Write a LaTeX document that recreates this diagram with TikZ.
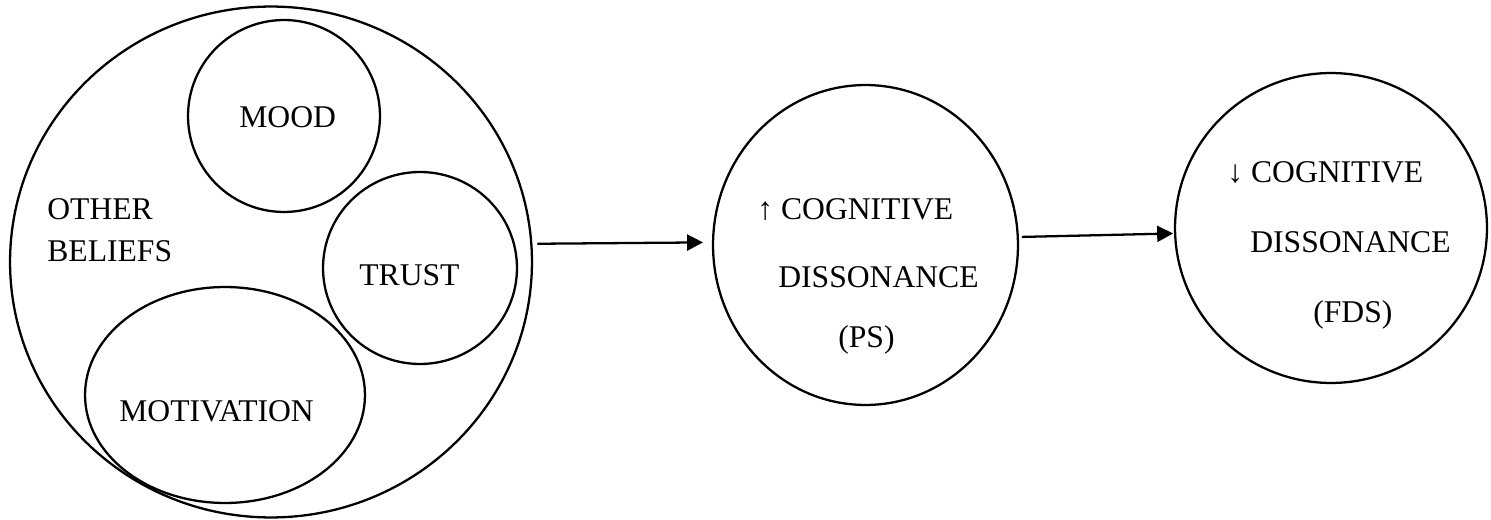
\documentclass[tikz,border=0pt]{standalone}
\usepackage{fontspec}
\setmainfont{Liberation Serif}
\usetikzlibrary{shapes.geometric,arrows.meta}

\begin{document}
\begin{tikzpicture}[
    x=0.02cm, y=-0.02cm,
    blob/.style={ellipse, draw, line width=1.3pt, inner sep=0pt, outer sep=0pt},
    txt/.style={font=\fontsize{18}{24}\selectfont, inner sep=0pt, anchor=base west},
    arrow/.style={-{Triangle[length=0.32cm, width=0.32cm]}, line width=1.3pt},
]
\useasboundingbox (0,0) rectangle (1491,520);

% Belief cluster
\node[blob, minimum width=10.44cm, minimum height=10.22cm] (beliefs) at (271,262) {};
\node[blob, minimum width=3.84cm, minimum height=3.84cm] (mood) at (284,116) {};
\node[blob, minimum width=3.88cm, minimum height=3.84cm] (trust) at (420,268) {};
\node[blob, minimum width=5.6cm, minimum height=4.32cm] (motiv) at (225,395) {};

\node[txt] (moodtxt) at (239,128) {MOOD};
\node[txt] (trusttxt) at (359,286) {TRUST};
\node[txt] (motivtxt) at (119,421) {MOTIVATION};
\node[txt] (othertxt) at (47,220) {OTHER};
\node[txt] (belieftxt) at (47,262) {BELIEFS};

% Dissonance states
\node[blob, minimum width=6.1cm, minimum height=6.4cm] (ps) at (865.5,245) {};
\node[blob, minimum width=6.24cm, minimum height=6.2cm] (fds) at (1331,228) {};

\node[txt] (pscog) at (757,220) {↑ COGNITIVE};
\node[txt] (psdis) at (778,288) {DISSONANCE};
\node[txt] (pslab) at (838,347) {(PS)};

\node[txt] (fdscog) at (1227,183) {↓ COGNITIVE};
\node[txt] (fdsdis) at (1250,253) {DISSONANCE};
\node[txt] (fdslab) at (1313,322) {(FDS)};

% Arrows
\draw[arrow, shorten <=0.12cm, shorten >=0.2cm] (beliefs.4) -- (ps.179);
\draw[arrow, shorten <=0.08cm, shorten >=0.04cm] (ps.3) -- (fds.182);

\end{tikzpicture}
\end{document}
